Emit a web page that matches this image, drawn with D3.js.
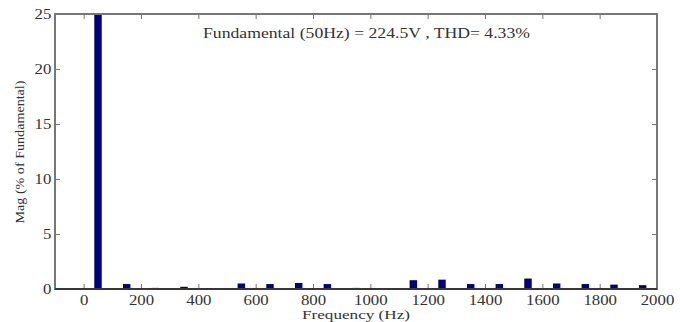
<!DOCTYPE html>
<html>
<head>
<meta charset="utf-8">
<script src="https://cdn.jsdelivr.net/npm/d3@7"></script>
<style>
  body { margin: 0; background: #fff; }
</style>
</head>
<body>
<div id="wrapper"></div>
<script>
// harmonic spectrum data
const harmonicFreqs = [50, 150, 250, 350, 450, 550, 650, 750, 850, 950, 1050, 1150, 1250, 1350, 1450, 1550, 1650, 1750, 1850, 1950]
const magnitudes = [100, 0.45, 0.1, 0.2, 0.05, 0.5, 0.45, 0.55, 0.45, 0.1, 0.05, 0.8, 0.85, 0.45, 0.45, 0.95, 0.5, 0.45, 0.4, 0.35]
const xTicks = [0, 200, 400, 600, 800, 1000, 1200, 1400, 1600, 1800, 2000]
const yTicks = [0, 5, 10, 15, 20, 25]
const titleText = "Fundamental (50Hz) = 224.5V , THD= 4.33%"

const serif = "'Times New Roman', 'Liberation Serif', Times, serif"

function drawSpectrum() {
  const dataset = harmonicFreqs.map((f, i) => ({ freq: f, mag: magnitudes[i] }))

  let dimensions = {
    width: 680,
    height: 322,
    margin: { top: 14, right: 23, bottom: 33, left: 55 },
  }
  dimensions.boundedWidth = dimensions.width - dimensions.margin.left - dimensions.margin.right
  dimensions.boundedHeight = dimensions.height - dimensions.margin.top - dimensions.margin.bottom

  const svg = d3.select("#wrapper")
    .append("svg")
      .attr("width", dimensions.width)
      .attr("height", dimensions.height)

  const bounds = svg.append("g")
    .attr("transform", `translate(${dimensions.margin.left},${dimensions.margin.top})`)

  const x = d3.scaleLinear().domain([-100, 2000]).range([0, dimensions.boundedWidth])
  const y = d3.scaleLinear().domain([0, 25]).range([dimensions.boundedHeight, 0])

  // clip so the fundamental bar stops at the top of the box
  svg.append("defs").append("clipPath").attr("id", "plot-clip")
    .append("rect")
      .attr("width", dimensions.boundedWidth)
      .attr("height", dimensions.boundedHeight)

  const barHalf = 13 // Hz
  bounds.append("g")
    .attr("clip-path", "url(#plot-clip)")
    .selectAll("rect")
    .data(dataset)
    .enter().append("rect")
      .attr("x", d => x(d.freq - barHalf))
      .attr("width", d => x(d.freq + barHalf) - x(d.freq - barHalf))
      .attr("y", d => y(d.mag))
      .attr("height", d => y(0) - y(d.mag))
      .attr("fill", "#000080")

  // axes, matlab style: ticks pointing inside, on all four sides
  const axisColor = "#777"
  const stretch = "scale(1.2,1)"

  const xAxis = bounds.append("g")
    .attr("transform", `translate(0,${dimensions.boundedHeight})`)
    .call(d3.axisBottom(x).tickValues(xTicks).tickFormat(d3.format("d")).tickSize(-5).tickPadding(6).tickSizeOuter(0))
  xAxis.select(".domain").remove()
  xAxis.selectAll("line").attr("stroke", axisColor)
  xAxis.selectAll("text")
    .style("font-family", serif).style("font-size", "14px").attr("fill", "#333")
    .attr("transform", stretch)

  const xTop = bounds.append("g")
    .call(d3.axisTop(x).tickValues(xTicks).tickSize(-5).tickFormat("").tickSizeOuter(0))
  xTop.select(".domain").remove()
  xTop.selectAll("line").attr("stroke", axisColor)

  const yAxis = bounds.append("g")
    .call(d3.axisLeft(y).tickValues(yTicks).tickSize(-5).tickPadding(3).tickSizeOuter(0))
  yAxis.select(".domain").remove()
  yAxis.selectAll("line").attr("stroke", axisColor)
  yAxis.selectAll("text")
    .style("font-family", serif).style("font-size", "14px").attr("fill", "#333")
    .attr("transform", stretch)

  const yRight = bounds.append("g")
    .attr("transform", `translate(${dimensions.boundedWidth},0)`)
    .call(d3.axisRight(y).tickValues(yTicks).tickSize(-5).tickFormat("").tickSizeOuter(0))
  yRight.select(".domain").remove()
  yRight.selectAll("line").attr("stroke", axisColor)

  // box
  bounds.append("rect")
    .attr("width", dimensions.boundedWidth)
    .attr("height", dimensions.boundedHeight)
    .attr("fill", "none")
    .attr("stroke", axisColor)
    .attr("stroke-width", 2)
  // baseline darker
  bounds.append("line")
    .attr("x1", 0).attr("x2", dimensions.boundedWidth)
    .attr("y1", y(0)).attr("y2", y(0))
    .attr("stroke", "#222").attr("stroke-width", 1.5)

  // annotation text
  bounds.append("text")
    .attr("x", 203 - dimensions.margin.left)
    .attr("y", 38 - dimensions.margin.top)
    .style("font-family", serif).style("font-size", "14px").attr("fill", "#333")
    .attr("textLength", 327)
    .attr("lengthAdjust", "spacingAndGlyphs")
    .text(titleText)

  // axis labels
  svg.append("text")
    .attr("x", 356)
    .attr("y", 319)
    .attr("text-anchor", "middle")
    .style("font-family", serif).style("font-size", "13px").attr("fill", "#333")
    .attr("textLength", 108)
    .attr("lengthAdjust", "spacingAndGlyphs")
    .text("Frequency (Hz)")

  svg.append("text")
    .attr("transform", "translate(24,152) rotate(-90)")
    .attr("text-anchor", "middle")
    .style("font-family", serif).style("font-size", "13px").attr("fill", "#333")
    .attr("textLength", 143)
    .attr("lengthAdjust", "spacingAndGlyphs")
    .text("Mag (% of Fundamental)")
}

drawSpectrum()
</script>
</body>
</html>
